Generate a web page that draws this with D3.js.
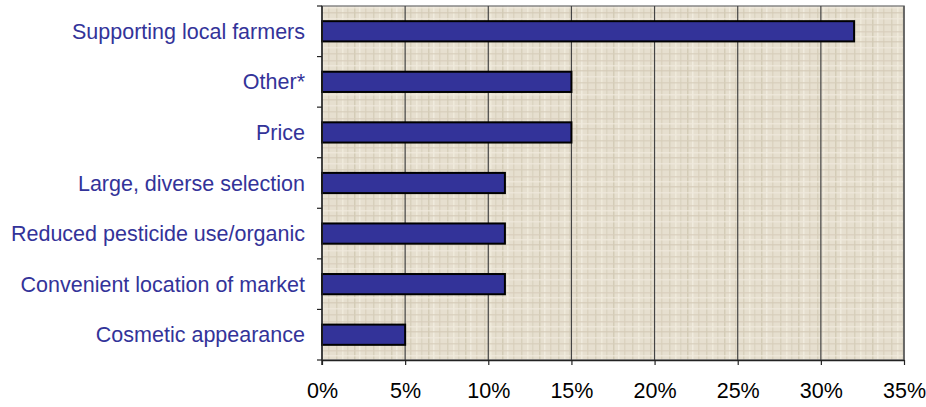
<!DOCTYPE html>
<html>
<head>
<meta charset="utf-8">
<script src="https://cdn.jsdelivr.net/npm/d3@7"></script>
<style>
	body { margin: 0; background: #fff; }
	svg text { font-family: "Liberation Sans", Arial, sans-serif; }
</style>
</head>
<body>
<div id="chart"></div>
<script>
// Reasons for shopping at the market
///

const categories = [
	'Supporting local farmers',
	'Other*',
	'Price',
	'Large, diverse selection',
	'Reduced pesticide use/organic',
	'Convenient location of market',
	'Cosmetic appearance'
];
const values = [32, 15, 15, 11, 11, 11, 5];
const xTicks = [0, 5, 10, 15, 20, 25, 30, 35];

const w = 926, h = 407;
const margin = {top: 6, right: 22, bottom: 47, left: 322};

let svg = d3.select('#chart').append('svg')
	.attr('width', w)
	.attr('height', h);

// papyrus-like texture for the plot area
let defs = svg.append('defs');
let pat = defs.append('pattern')
	.attr('id', 'paper')
	.attr('patternUnits', 'userSpaceOnUse')
	.attr('width', 37).attr('height', 29);
pat.append('rect').attr('width', 37).attr('height', 29).attr('fill', '#e6dfcf');
[[3, '#d5ccb8'], [9, '#f1ecdf'], [14, '#dad2bf'], [21, '#d0c7b2'], [26, '#f3eee2'], [32, '#d9d0bd']].forEach(function(v) {
	pat.append('rect').attr('x', v[0]).attr('y', 0).attr('width', 1.5).attr('height', 29).attr('fill', v[1]).attr('opacity', 0.8);
});
[[2, '#d7cebb'], [7, '#f2ecdf'], [12, '#d3cab5'], [18, '#f0eadd'], [24, '#d6cdb9']].forEach(function(v) {
	pat.append('rect').attr('x', 0).attr('y', v[0]).attr('width', 37).attr('height', 1.5).attr('fill', v[1]).attr('opacity', 0.7);
});

const x = d3.scaleLinear()
	.domain([0, 35])
	.range([margin.left, w - margin.right]);

const y = d3.scaleBand()
	.domain(categories)
	.range([margin.top, h - margin.bottom])
	.paddingInner(0.6)
	.paddingOuter(0.3);

const yTickScale = d3.scaleBand()
	.domain(categories)
	.range([margin.top, h - margin.bottom]);

// plot background
svg.append('rect')
	.attr('x', x(0)).attr('y', margin.top)
	.attr('width', x(35) - x(0))
	.attr('height', h - margin.bottom - margin.top)
	.attr('fill', 'url(#paper)')
	.attr('stroke', '#888')
	.attr('stroke-width', 1.5);

// vertical gridlines
svg.append('g').selectAll('line')
	.data(xTicks.slice(1))
	.enter()
	.append('line')
	.attr('x1', d => x(d)).attr('x2', d => x(d))
	.attr('y1', margin.top).attr('y2', h - margin.bottom)
	.attr('stroke', '#444')
	.attr('stroke-width', 1.2);

// bars
svg.append('g').selectAll('rect')
	.data(values)
	.enter()
	.append('rect')
	.attr('x', x(0))
	.attr('y', (d, i) => y(categories[i]))
	.attr('width', d => x(d) - x(0))
	.attr('height', y.bandwidth())
	.attr('fill', '#333399')
	.attr('stroke', '#000')
	.attr('stroke-width', 2);

// x axis
let xAxis = svg.append('g')
	.attr('transform', 'translate(0,' + (h - margin.bottom) + ')')
	.call(d3.axisBottom(x).tickValues(xTicks).tickFormat(d => d + '%').tickSize(5).tickSizeOuter(0));
xAxis.select('.domain').attr('stroke', '#222').attr('stroke-width', 1.5);
xAxis.selectAll('.tick line').attr('stroke', '#222').attr('stroke-width', 1.2);
xAxis.selectAll('.tick text')
	.attr('y', 23)
	.attr('font-size', 21.5)
	.attr('fill', '#000');

// y axis (ticks at band boundaries)
let yAxis = svg.append('g')
	.attr('transform', 'translate(' + x(0) + ',0)');
yAxis.append('line')
	.attr('y1', margin.top).attr('y2', h - margin.bottom + 5)
	.attr('stroke', '#222').attr('stroke-width', 1.5);
yAxis.selectAll('line.tk')
	.data(categories.concat(['end']))
	.enter()
	.append('line')
	.attr('class', 'tk')
	.attr('x1', -5).attr('x2', 0)
	.attr('y1', (d, i) => margin.top + i * yTickScale.step())
	.attr('y2', (d, i) => margin.top + i * yTickScale.step())
	.attr('stroke', '#222').attr('stroke-width', 1.2);
yAxis.selectAll('text')
	.data(categories)
	.enter()
	.append('text')
	.attr('x', -17)
	.attr('y', d => y(d) + y.bandwidth() / 2)
	.attr('dy', '0.35em')
	.attr('text-anchor', 'end')
	.attr('font-size', 21.5)
	.attr('fill', '#333399')
	.text(d => d);
</script>
</body>
</html>
